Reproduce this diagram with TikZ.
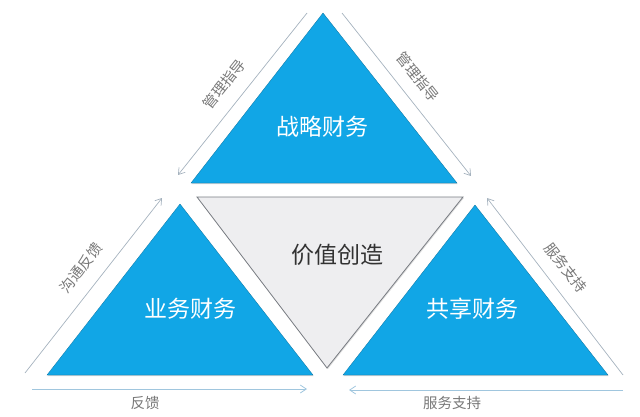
\documentclass[tikz,border=0pt]{standalone}
\usepackage{fontspec}
\setmainfont{Noto Sans CJK SC}
\usetikzlibrary{arrows.meta,shadows}
\definecolor{triblue}{RGB}{17,166,230}
\definecolor{midgray}{RGB}{238,238,240}
\definecolor{edgegray}{RGB}{120,124,130}
\definecolor{arrgray}{RGB}{165,178,190}
\definecolor{arrblue}{RGB}{160,198,222}
\definecolor{labgray}{RGB}{120,120,120}
\definecolor{darktext}{RGB}{50,50,50}
\tikzset{
  bluetri/.style={fill=triblue, draw=triblue!70!black, line width=0.3pt,
    drop shadow={opacity=0.35, shadow xshift=0.6pt, shadow yshift=-1.2pt}},
  graytri/.style={fill=midgray, draw=edgegray, line width=0.8pt,
    drop shadow={opacity=0.25, shadow xshift=0.8pt, shadow yshift=-1.2pt}},
  bigtext/.style={font=\fontsize{23}{26}\selectfont, inner sep=0pt},
  smalltext/.style={font=\fontsize{14.5}{16}\selectfont, text=labgray, inner sep=0pt},
  diagarrow/.style={draw=arrgray, line width=0.7pt, -{Straight Barb[length=6pt,width=8pt]}},
  botarrow/.style={draw=arrblue, line width=0.8pt, -{Straight Barb[length=6pt,width=8pt]}},
}
\begin{document}
\begin{tikzpicture}[x=1pt,y=-1pt]
\useasboundingbox (0,0) rectangle (640,417);
% triangles
\draw[bluetri] (323,13) -- (457,183) -- (191,183) -- cycle;
\draw[graytri] (197,197) -- (463,197) -- (327,368) -- cycle;
\draw[bluetri] (180,204) -- (313,375) -- (47,375) -- cycle;
\draw[bluetri] (475,205) -- (608,375) -- (343,375) -- cycle;
% texts
\node[bigtext, text=white] (strat) at (322,127) {战略财务};
\node[bigtext, text=darktext] (value) at (337,255) {价值创造};
\node[bigtext, text=white] (biz) at (190,309) {业务财务};
\node[bigtext, text=white] (share) at (472,309) {共享财务};
% arrow endpoints
\coordinate (tl1) at (307,13);  \coordinate (tl2) at (178,175);
\coordinate (tr1) at (342,13);  \coordinate (tr2) at (471,176);
\coordinate (l1) at (25,373);   \coordinate (l2) at (162,198);
\coordinate (r1) at (623,375);  \coordinate (r2) at (487,198);
\coordinate (b1) at (32,389);   \coordinate (b2) at (307,389);
\coordinate (c1) at (623,390);  \coordinate (c2) at (349,390);
\draw[diagarrow] (tl1) -- (tl2);
\draw[diagarrow] (tr1) -- (tr2);
\draw[diagarrow] (l1) -- (l2);
\draw[diagarrow] (r1) -- (r2);
\draw[botarrow] (b1) -- (b2);
\draw[botarrow] (c1) -- (c2);
% labels
\node[smalltext, rotate=51.5] (lab1) at (224,84) {管理指导};
\node[smalltext, rotate=-51.5] (lab2) at (418,77) {管理指导};
\node[smalltext, rotate=52] (lab3) at (81,268) {沟通反馈};
\node[smalltext, rotate=-52] (lab4) at (566,268) {服务支持};
\node[smalltext] (lab5) at (145,403) {反馈};
\node[smalltext] (lab6) at (452,403) {服务支持};
\end{tikzpicture}
\end{document}
